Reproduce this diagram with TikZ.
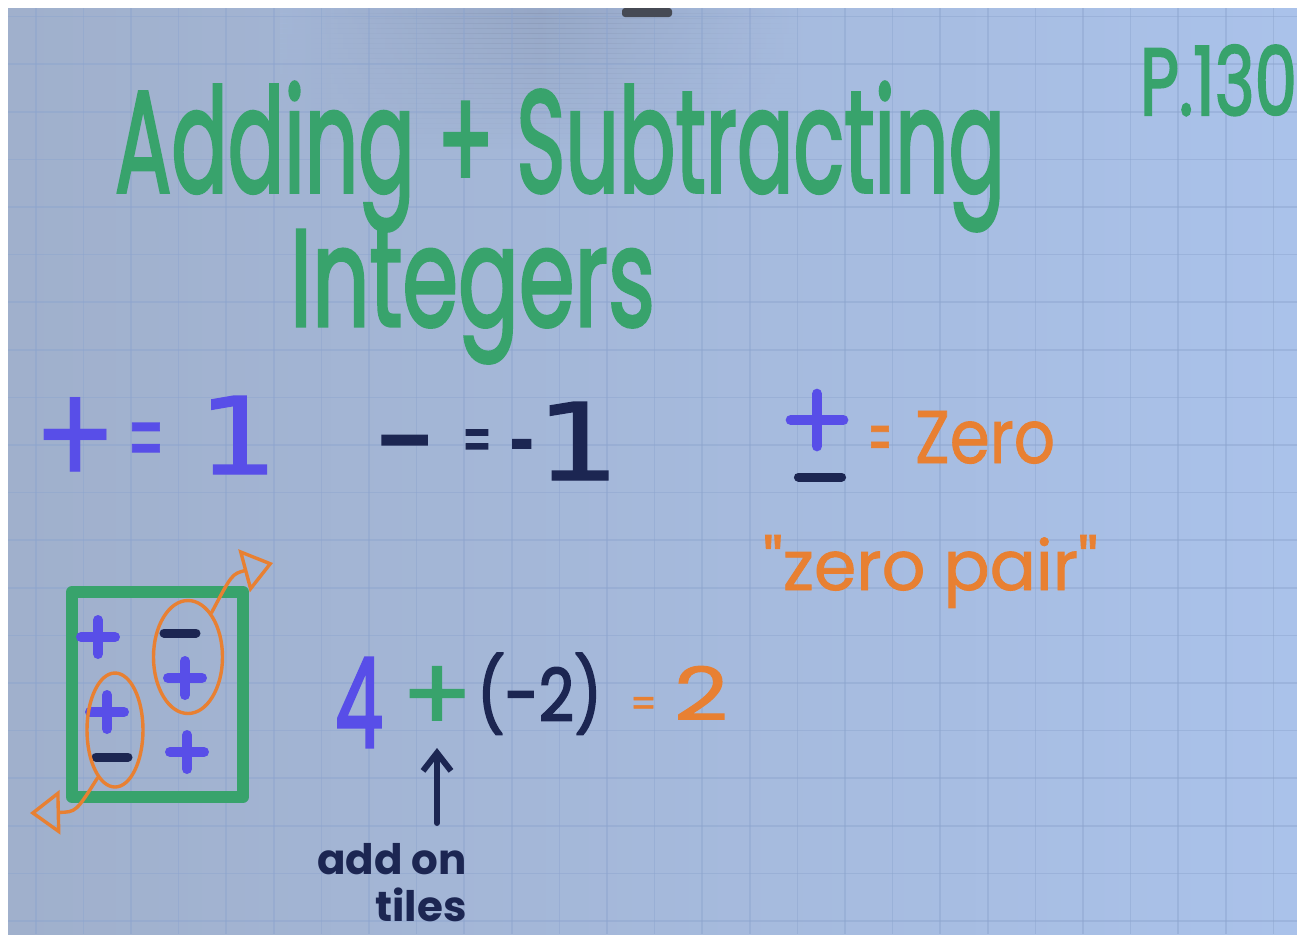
\documentclass[tikz,border=0pt]{standalone}
\usepackage{fontspec}
\setmainfont{Poppins}
\newfontfamily\marker[FakeBold=2.5]{Poppins}
\newfontfamily\markerthin[FakeBold=1.2]{Poppins}
\newfontfamily\digitfont[FakeBold=1.2]{DejaVu Sans}
\usetikzlibrary{shapes.geometric,arrows.meta}
\definecolor{mgreen}{RGB}{56,163,108}
\definecolor{mblue}{RGB}{88,78,232}
\definecolor{mnavy}{RGB}{28,38,82}
\definecolor{morange}{RGB}{232,128,50}
\definecolor{paperL}{RGB}{160,176,204}
\definecolor{paperM}{RGB}{166,186,222}
\definecolor{paperR}{RGB}{170,194,234}
\definecolor{gridc}{RGB}{140,164,206}
\definecolor{shadowc}{RGB}{118,130,156}
\definecolor{tabc}{RGB}{70,74,84}
\newcommand{\fitbox}[3]{\resizebox{#1}{#2}{#3}}
\tikzset{
  pics/tplus/.style={code={\draw[line width=5pt, line cap=round, #1] (-17,0)--(17,0) (0,-17)--(0,17);}},
  pics/tminus/.style={code={\draw[line width=4.5pt, line cap=round, #1] (-16,0)--(16,0);}}
}
\begin{document}
\begin{tikzpicture}[x=0.5pt,y=-0.5pt,
  txt/.style={inner sep=0pt, outer sep=0pt, anchor=base west},
  tilebox/.style={draw=mgreen, line width=6pt, line join=round, inner sep=0pt},
  zeroring/.style={ellipse, draw=morange, line width=1.7pt, inner sep=0pt},
  pairarrow/.style={draw=morange, line width=1.7pt, line cap=round,
    -{Triangle[open, length=15pt, width=22pt, line width=1.7pt]}},
  notearrow/.style={draw=mnavy, line width=3pt, line cap=round,
    -{Straight Barb[length=9pt, width=14pt, line width=3pt]}}
]
\useasboundingbox (0,0) rectangle (1297,934);
\fill[white] (0,0) rectangle (1297,934);
% paper
\shade[left color=paperL, middle color=paperM, right color=paperR] (8,8) rectangle (1297,934);
\foreach \k in {0,...,27}
  \shade[left color=paperM, right color=paperM, middle color=shadowc, opacity={0.3*(1-\k/28)}]
    (280,{8+5*\k}) rectangle (800,{13.2+5*\k});
\foreach \i in {0,...,26}
  \draw[gridc, opacity=0.45, line width=0.8pt] ({35.8+47.6*\i},8) -- ({35.8+47.6*\i},934);
\foreach \j in {0,...,19}
  \draw[gridc, opacity=0.45, line width=0.8pt] (8,{16.6+47.6*\j}) -- (1297,{16.6+47.6*\j});
\fill[tabc, rounded corners=1.5pt] (622,8) rectangle (672,17);

% title
\node[txt, text=mgreen, font=\marker] (title) at (115,192) {\fitbox{445pt}{55pt}{Adding + Subtracting}};
\node[txt, text=mgreen, font=\marker] (title2) at (290,326) {\fitbox{182.5pt}{48pt}{Integers}};
\node[txt, text=mgreen, font=\marker] (page) at (1140,115) {\fitbox{78.5pt}{35pt}{P.130}};

% + = 1
\node[txt, text=mblue] (posplus) at (33,488) {\fitbox{42pt}{45.5pt}{+}};
\node[txt, text=mblue, font=\markerthin] (poseq) at (127,474) {\fitbox{19pt}{25.5pt}{=}};
\node[txt, text=mblue, font=\digitfont] (posone) at (198,474) {\fitbox{40pt}{39pt}{1}};
% - = -1
\node[txt, text=mnavy, font=\marker] (negminus) at (376,480) {\fitbox{28.5pt}{22pt}{–}};
\node[txt, text=mnavy, font=\marker] (negeq) at (462,463) {\fitbox{15pt}{16.5pt}{=}};
\node[txt, text=mnavy, font=\marker] (neghyph) at (510,480) {\fitbox{12.5pt}{20pt}{-}};
\node[txt, text=mnavy, font=\digitfont] (negone) at (536,480) {\fitbox{42pt}{39pt}{1}};
% zero pair
\pic[scale=1.55] at (817,420) {tplus=mblue};
\pic[scale=1.35] at (820,477) {tminus=mnavy};
\node[txt, text=morange, font=\markerthin] (zeroeq) at (868,464) {\fitbox{12pt}{19pt}{=}};
\node[txt, text=morange, font=\markerthin] (zero) at (915,463) {\fitbox{70pt}{26pt}{Zero}};
\node[txt, text=morange, font=\markerthin] (pair) at (763,590) {\fitbox{167.5pt}{27.5pt}{"zero pair"}};

% tile box
\node[tilebox, minimum width=85.5pt, minimum height=102.5pt] (box) at (157.5,694.5) {};
\pic at (98,637) {tplus=mblue};
\pic at (180,633) {tminus=mnavy};
\pic at (185,678) {tplus=mblue};
\pic at (107,712) {tplus=mblue};
\pic at (112,757) {tminus=mnavy};
\pic at (187,752) {tplus=mblue};
\node[zeroring, minimum width=34.5pt, minimum height=56.5pt] (ringR) at (188,657) {};
\node[zeroring, minimum width=28pt, minimum height=57pt] (ringL) at (115,730) {};
\coordinate (tipR) at (273,563);
\coordinate (tipL) at (30,813);
\draw[pairarrow] (ringR.62) .. controls (232,574) .. (tipR);
\draw[pairarrow] (ringL.250) .. controls (76,812) .. (tipL);

% equation 4 + (-2) = 2
\node[txt, text=mblue, font=\marker] (eqfour) at (335,747) {\fitbox{24pt}{44.5pt}{4}};
\node[txt, text=mgreen, font=\markerthin] (eqplus) at (401,732) {\fitbox{36pt}{!}{+}};
\node[txt, text=mnavy, font=\marker] (eqneg) at (477,721) {\fitbox{62.5pt}{34pt}{(-2)}};
\node[txt, text=morange, font=\markerthin] (eqeq) at (630,717) {\fitbox{13.5pt}{10pt}{=}};
\node[txt, text=morange, font=\markerthin] (eqtwo) at (674,720) {\fitbox{27pt}{27pt}{2}};
\node[text=mnavy, align=right, inner sep=0pt, anchor=north east,
      font=\bfseries\fontsize{21}{23.5}\selectfont] (tiles) at (467,843) {add on\\tiles};
\draw[notearrow, shorten <=10pt, shorten >=8pt] (tiles.north -| eqplus.south) -- (eqplus.south);
\end{tikzpicture}
\end{document}
